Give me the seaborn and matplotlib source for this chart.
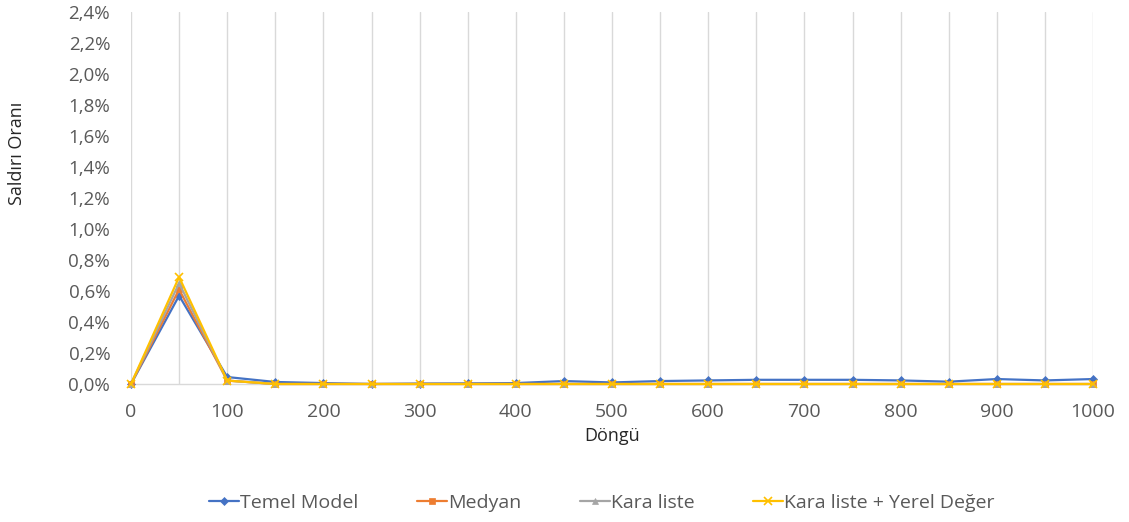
import matplotlib
matplotlib.use("Agg")
import matplotlib.pyplot as plt
import matplotlib.ticker as mticker
import seaborn as sns
import pandas as pd

cycles = list(range(0, 1001, 50))
temel_model = [0.0, 0.57, 0.045, 0.013, 0.006, 0.0, 0.003, 0.004, 0.006, 0.019, 0.010,
               0.019, 0.023, 0.027, 0.027, 0.027, 0.023, 0.015, 0.032, 0.023, 0.032]
medyan = [0.0, 0.61, 0.022, 0.0, 0.0, 0.0, 0.0, 0.0, 0.0, 0.0, 0.0,
          0.0, 0.0, 0.0, 0.0, 0.0, 0.0, 0.0, 0.0, 0.0, 0.0]
kara_liste = [0.0, 0.65, 0.022, 0.0, 0.0, 0.0, 0.0, 0.0, 0.0, 0.0, 0.0,
              0.0, 0.0, 0.0, 0.0, 0.0, 0.0, 0.0, 0.0, 0.0, 0.0]
kara_yerel = [0.0, 0.69, 0.022, 0.0, 0.0, 0.0, 0.0, 0.0, 0.0, 0.0, 0.0,
              0.0, 0.0, 0.0, 0.0, 0.0, 0.0, 0.0, 0.0, 0.0, 0.0]
series_names = ["Temel Model", "Medyan", "Kara liste", "Kara liste + Yerel Değer"]

rows = []
for name, vals in zip(series_names, [temel_model, medyan, kara_liste, kara_yerel]):
    for c, v in zip(cycles, vals):
        rows.append({"Döngü": c, "Oran": v, "Seri": name})
df = pd.DataFrame(rows)

sns.set_theme(style="white")
plt.rcParams["font.family"] = ["Open Sans", "DejaVu Sans"]

palette = {"Temel Model": "#4472C4", "Medyan": "#ED7D31",
           "Kara liste": "#A5A5A5", "Kara liste + Yerel Değer": "#FFC000"}
markers = {"Temel Model": "D", "Medyan": "s",
           "Kara liste": "^", "Kara liste + Yerel Değer": "x"}
sizes = {"Temel Model": 4, "Medyan": 5, "Kara liste": 5, "Kara liste + Yerel Değer": 6}

fig = plt.figure(figsize=(11.29, 5.22), dpi=100)
ax = fig.add_axes([131 / 1129, 1 - 384 / 522, 962 / 1129, 372 / 522])

for name in series_names:
    sub = df[df["Seri"] == name]
    sns.lineplot(data=sub, x="Döngü", y="Oran", ax=ax, color=palette[name],
                 marker=markers[name], markersize=sizes[name], linewidth=1.6,
                 markeredgecolor=palette[name],
                 markeredgewidth=1.2 if name.endswith("Değer") else 0.5,
                 label=name, zorder=3)

ax.set_xlim(0, 1000)
ax.set_ylim(0, 2.4)
ax.xaxis.set_major_locator(mticker.MultipleLocator(100))
ax.xaxis.set_minor_locator(mticker.MultipleLocator(50))
ax.yaxis.set_major_locator(mticker.MultipleLocator(0.2))
ax.yaxis.set_major_formatter(mticker.FuncFormatter(lambda v, p: f"{v:.1f}%".replace(".", ",")))
ax.grid(True, axis="x", which="both", color="#D9D9D9", linewidth=1.0, zorder=0)
ax.grid(False, axis="y")
for s in ["top", "right", "left"]:
    ax.spines[s].set_visible(False)
ax.spines["bottom"].set_color("#D9D9D9")
ax.spines["bottom"].set_linewidth(1.0)
ax.tick_params(axis="x", length=0, labelsize=14, colors="#595959", pad=14)
ax.tick_params(axis="y", length=0, labelsize=13.5, colors="#595959", pad=15)
ax.set_xlabel("Döngü", fontsize=13, color="#262626", labelpad=4)
ax.set_ylabel("Saldırı Oranı", fontsize=13, color="#262626")
ax.yaxis.set_label_coords(-0.109, 0.62)
for line in ax.lines:
    line.set_clip_on(False)

handles, labels = ax.get_legend_handles_labels()
ax.get_legend().remove()
fig.legend(handles, labels, loc="center", bbox_to_anchor=(0.533, 0.036), ncol=4,
           frameon=False, fontsize=14, labelcolor="#595959", handlelength=1.55,
           handletextpad=0.05, columnspacing=3.0)

fig.savefig("out.png", dpi=100)
